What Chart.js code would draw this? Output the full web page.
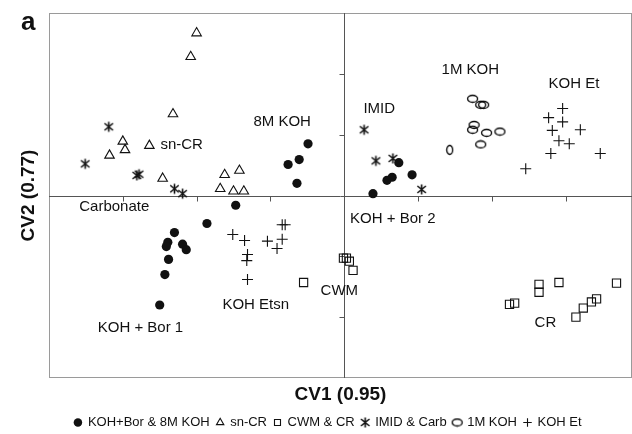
<!DOCTYPE html>
<html>
<head>
<meta charset="utf-8">
<script src="https://cdn.jsdelivr.net/npm/chart.js@4.4.1/dist/chart.umd.min.js"></script>
<style>
  html, body { margin: 0; padding: 0; background: #fff; }
  #wrap { width: 632px; height: 434px; position: relative; }
</style>
</head>
<body>
<div id="wrap"><canvas id="chart"></canvas></div>
<script>
// KOH+Bor & 8M KOH (filled circles)
const borX = [-0.49, -0.61, -0.76, -0.64, 0.74, 0.65, 0.58, 0.92, 0.39, -1.47, -1.86, -2.30, -2.39, -2.41, -2.19, -2.14, -2.38, -2.43, -2.50];
const borY = [0.85, 0.59, 0.51, 0.20, 0.54, 0.30, 0.25, 0.34, 0.03, -0.16, -0.46, -0.61, -0.77, -0.84, -0.80, -0.89, -1.05, -1.30, -1.80];

// sn-CR (open triangles)
const snX = [-2.00, -2.08, -2.32, -3.00, -2.97, -3.18, -2.64, -2.46, -1.62, -1.42, -1.68, -1.50, -1.36];
const snY = [2.67, 2.28, 1.34, 0.89, 0.75, 0.66, 0.82, 0.28, 0.34, 0.41, 0.11, 0.07, 0.07];

// CWM & CR (open squares)
const cwmX = [-0.01, 0.03, 0.07, 0.12, -0.55, 2.64, 2.64, 2.91, 3.69, 2.24, 2.31, 3.14, 3.24, 3.35, 3.42];
const cwmY = [-1.03, -1.03, -1.08, -1.23, -1.43, -1.46, -1.59, -1.43, -1.44, -1.79, -1.77, -2.00, -1.85, -1.75, -1.70];

// IMID & Carb (asterisks)
const imidX = [-3.19, -3.51, -2.78, -2.81, -2.30, -2.19, 0.27, 0.43, 0.66, 1.05];
const imidY = [1.13, 0.52, 0.35, 0.33, 0.11, 0.03, 1.08, 0.57, 0.61, 0.10];

// 1M KOH (open ellipses)
const m1X = [1.74, 1.85, 1.89, 1.76, 1.74, 1.93, 2.11, 1.85, 1.43];
const m1Y = [1.59, 1.49, 1.49, 1.16, 1.08, 1.03, 1.05, 0.84, 0.75];

// KOH Et and KOH Etsn (plus signs)
const etX = [2.96, 2.77, 2.96, 2.82, 3.20, 2.91, 3.05, 2.80, 3.47, 2.46, -1.51, -1.35, -1.31, -1.32, -1.31, -1.04, -0.91, -0.84, -0.84, -0.80];
const etY = [1.43, 1.28, 1.21, 1.07, 1.08, 0.90, 0.85, 0.69, 0.69, 0.44, -0.64, -0.74, -0.97, -1.07, -1.38, -0.75, -0.87, -0.72, -0.48, -0.48];

// group labels inside the plot (left edge x, middle y)
const noteText = ['sn-CR', '8M KOH', 'IMID', '1M KOH', 'KOH Et', 'Carbonate', 'KOH + Bor 1', 'KOH Etsn', 'KOH + Bor 2', 'CWM', 'CR'];
const noteX = [-2.49, -1.23, 0.26, 1.32, 2.77, -3.59, -3.34, -1.65, 0.08, -0.32, 2.58];
const noteY = [0.84, 1.21, 1.43, 2.07, 1.84, -0.18, -2.18, -1.79, -0.39, -1.56, -2.10];

const seriesNames = ['KOH+Bor & 8M KOH', 'sn-CR', 'CWM & CR', 'IMID & Carb', '1M KOH', 'KOH Et'];
const xTicks = [-3, -2, -1, 1, 2, 3];
const yTicks = [-2, -1, 1, 2];

function pts(xs, ys) {
  return xs.map((x, i) => ({ x: x, y: ys[i] }));
}

function ellipseImg(rx, ry) {
  const c = document.createElement('canvas');
  c.width = Math.ceil(rx * 2 + 3);
  c.height = Math.ceil(ry * 2 + 3);
  const g = c.getContext('2d');
  g.strokeStyle = '#000';
  g.lineWidth = 1.3;
  g.beginPath();
  g.ellipse(c.width / 2, c.height / 2, rx, ry, 0, 0, Math.PI * 2);
  g.stroke();
  return c;
}

function asteriskImg(r) {
  const c = document.createElement('canvas');
  c.width = c.height = r * 2 + 3;
  const g = c.getContext('2d');
  const m = c.width / 2;
  g.strokeStyle = '#111';
  g.lineWidth = 1.6;
  g.beginPath();
  g.moveTo(m, m - r); g.lineTo(m, m + r);
  g.moveTo(m - r * 0.85, m - r * 0.7); g.lineTo(m + r * 0.85, m + r * 0.7);
  g.moveTo(m - r * 0.85, m + r * 0.7); g.lineTo(m + r * 0.85, m - r * 0.7);
  g.stroke();
  return c;
}

const wideOval = ellipseImg(5, 3.5);
const tallOval = ellipseImg(3, 4.5);
const star = asteriskImg(5);

const titleFont = { family: '"Liberation Sans", Arial, sans-serif', size: 19, weight: 'bold' };

// frame, zero axes with little ticks, and the free text
const decor = {
  id: 'decor',
  beforeDatasetsDraw(chart) {
    const { ctx, chartArea: a, scales: { x, y } } = chart;
    ctx.save();
    ctx.strokeStyle = '#9a9a9a';
    ctx.lineWidth = 1;
    ctx.strokeRect(a.left + 0.5, a.top + 0.5, a.right - a.left - 1, a.bottom - a.top - 1);
    const x0 = Math.round(x.getPixelForValue(0)) + 0.5;
    const y0 = Math.round(y.getPixelForValue(0)) + 0.5;
    ctx.strokeStyle = '#555';
    ctx.beginPath();
    ctx.moveTo(a.left, y0); ctx.lineTo(a.right, y0);
    ctx.moveTo(x0, a.top); ctx.lineTo(x0, a.bottom);
    xTicks.forEach(v => {
      const px = Math.round(x.getPixelForValue(v)) + 0.5;
      ctx.moveTo(px, y0); ctx.lineTo(px, y0 + 5);
    });
    yTicks.forEach(v => {
      const py = Math.round(y.getPixelForValue(v)) + 0.5;
      ctx.moveTo(x0 - 5, py); ctx.lineTo(x0, py);
    });
    ctx.stroke();
    ctx.restore();
  },
  afterDraw(chart) {
    const { ctx, scales: { x, y } } = chart;
    ctx.save();
    ctx.fillStyle = '#111';
    ctx.textBaseline = 'middle';
    ctx.textAlign = 'left';
    ctx.font = '15px "Liberation Sans", Arial, sans-serif';
    noteText.forEach((t, i) => {
      ctx.fillText(t, x.getPixelForValue(noteX[i]), y.getPixelForValue(noteY[i]));
    });
    ctx.font = 'bold 26px "Liberation Sans", Arial, sans-serif';
    ctx.textBaseline = 'alphabetic';
    ctx.fillText('a', 21, 30);
    ctx.restore();
  }
};

new Chart(document.getElementById('chart'), {
  type: 'scatter',
  data: {
    datasets: [
      {
        label: seriesNames[0],
        data: pts(borX, borY),
        pointStyle: 'circle',
        pointRadius: 4.6,
        backgroundColor: '#111',
        borderColor: '#111',
        borderWidth: 0
      },
      {
        label: seriesNames[1],
        data: pts(snX, snY),
        pointStyle: 'triangle',
        pointRadius: 5.5,
        backgroundColor: 'transparent',
        borderColor: '#111',
        borderWidth: 1.1
      },
      {
        label: seriesNames[2],
        data: pts(cwmX, cwmY),
        pointStyle: 'rect',
        pointRadius: 5.8,
        backgroundColor: 'transparent',
        borderColor: '#111',
        borderWidth: 1.1
      },
      {
        label: seriesNames[3],
        data: pts(imidX, imidY),
        pointStyle: star,
        pointRadius: 5,
        backgroundColor: 'transparent',
        borderColor: '#111'
      },
      {
        label: seriesNames[4],
        data: pts(m1X, m1Y),
        pointStyle: m1X.map((v, i) => i === m1X.length - 1 ? tallOval : wideOval),
        pointRadius: 5,
        backgroundColor: 'transparent',
        borderColor: '#111'
      },
      {
        label: seriesNames[5],
        data: pts(etX, etY),
        pointStyle: 'cross',
        pointRadius: 5.5,
        backgroundColor: 'transparent',
        borderColor: '#111',
        borderWidth: 1.1
      }
    ]
  },
  options: {
    responsive: true,
    maintainAspectRatio: false,
    animation: false,
    layout: { autoPadding: false, padding: { left: 24, right: 0, top: 13, bottom: -5 } },
    scales: {
      x: {
        type: 'linear', min: -4, max: 3.9,
        grid: { display: false, drawTicks: false },
        border: { display: false },
        ticks: { display: false },
        title: { display: true, text: 'CV1 (0.95)', color: '#111', font: titleFont, padding: { top: 5.6, bottom: 2.6 } }
      },
      y: {
        type: 'linear', min: -3, max: 3,
        grid: { display: false, drawTicks: false },
        border: { display: false },
        ticks: { display: false },
        title: { display: true, text: 'CV2 (0.77)', color: '#111', font: titleFont, padding: { top: -7, bottom: 9.2 } }
      }
    },
    plugins: {
      tooltip: { enabled: false },
      legend: {
        position: 'bottom',
        labels: {
          usePointStyle: true,
          boxWidth: 7,
          boxHeight: 6,
          padding: 7,
          color: '#111',
          font: { family: '"Liberation Sans", Arial, sans-serif', size: 13 }
        }
      }
    }
  },
  plugins: [decor]
});
</script>
</body>
</html>
